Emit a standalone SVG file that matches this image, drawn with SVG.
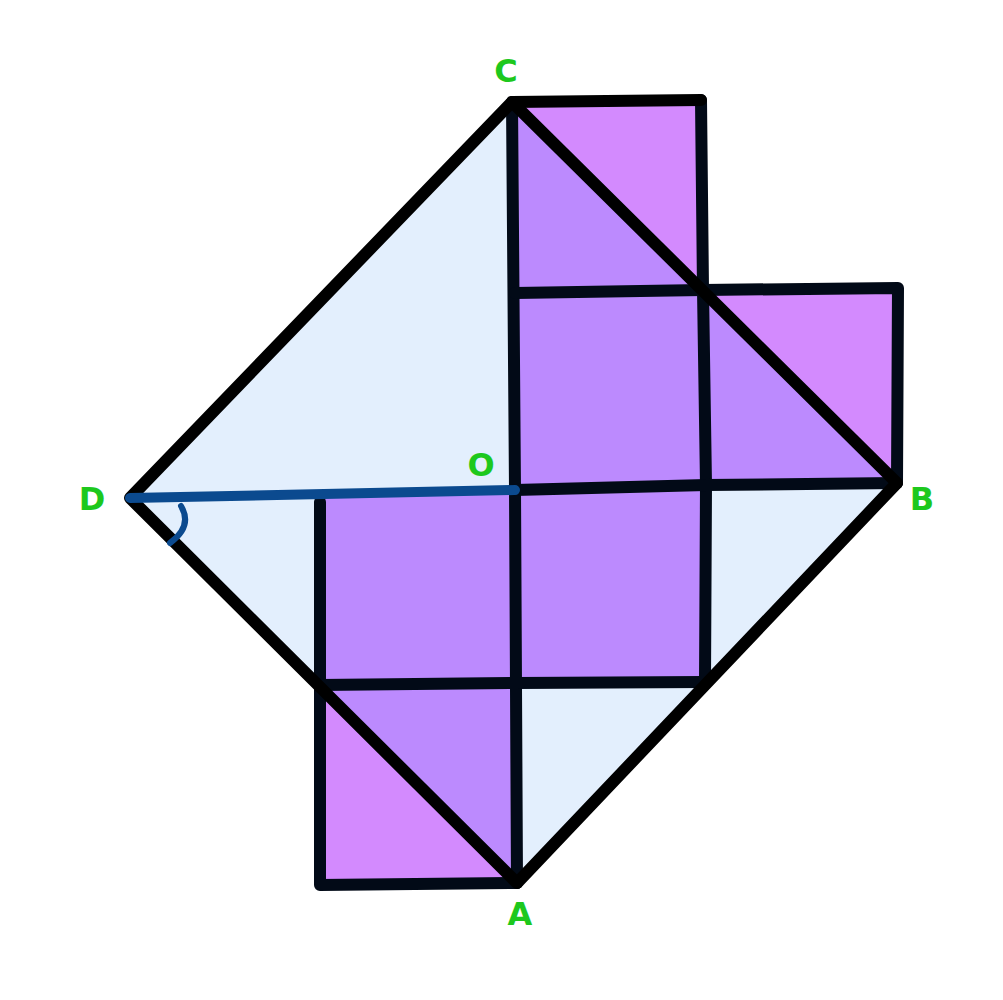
<svg xmlns="http://www.w3.org/2000/svg" width="1003" height="1000" viewBox="0 0 1003 1000">
<style>
.lb{fill:#E3EFFD}
.pm{fill:#BC8AFE}
.pl{fill:#D38AFE}
.edge{fill:none;stroke:#000;stroke-width:12;stroke-linecap:round;stroke-linejoin:round}
.grid{fill:none;stroke:#020a17;stroke-width:12;stroke-linecap:round;stroke-linejoin:round}
.lbl{fill:#1DC81D;font-family:"DejaVu Sans",sans-serif;font-weight:bold;font-size:32px;text-anchor:middle}
</style>
<rect width="1003" height="1000" fill="#fff"/>
<g id="fills">
<polygon class="lb" points="512,102 897,483 517,883 130,498"/>
<polygon class="pm" points="512,102 703,290 897,483 706,485 705,682 517,683 517,883 320,685 320,494 515,490"/>
<polygon class="pl" points="512,102 701,100 703,290"/>
<polygon class="pl" points="703,290 898,288 897,483"/>
<polygon class="pl" points="320,685 320,885 517,883"/>
</g>
<g id="connectors">
<polyline class="grid" points="512,102 515,490 517,883"/>
<polyline class="grid" points="701,100 703,290 706,485 705,682"/>
<polyline class="grid" points="515,293 703,290 898,288 897,483"/>
<polyline class="grid" points="515,490 706,485 897,483"/>
<polyline class="grid" points="320,685 517,683 705,682"/>
<polyline class="grid" points="320,502 320,885 517,883"/>
<polyline class="edge" points="512,102 701,100"/>
<polygon class="edge" points="512,102 897,483 517,883 130,498"/>
<line x1="130" y1="498" x2="515" y2="490" stroke="#0B4A8F" stroke-width="10" stroke-linecap="round"/>
<path d="M181,506 Q193,526 170,543" fill="none" stroke="#0B4A8F" stroke-width="6" stroke-linecap="round"/>
</g>
<g id="C"><text class="lbl" x="506" y="82">C</text></g>
<g id="D"><text class="lbl" x="92" y="510">D</text></g>
<g id="O"><text class="lbl" x="481" y="476">O</text></g>
<g id="B"><text class="lbl" x="922" y="510">B</text></g>
<g id="A"><text class="lbl" x="520" y="925">A</text></g>
</svg>
